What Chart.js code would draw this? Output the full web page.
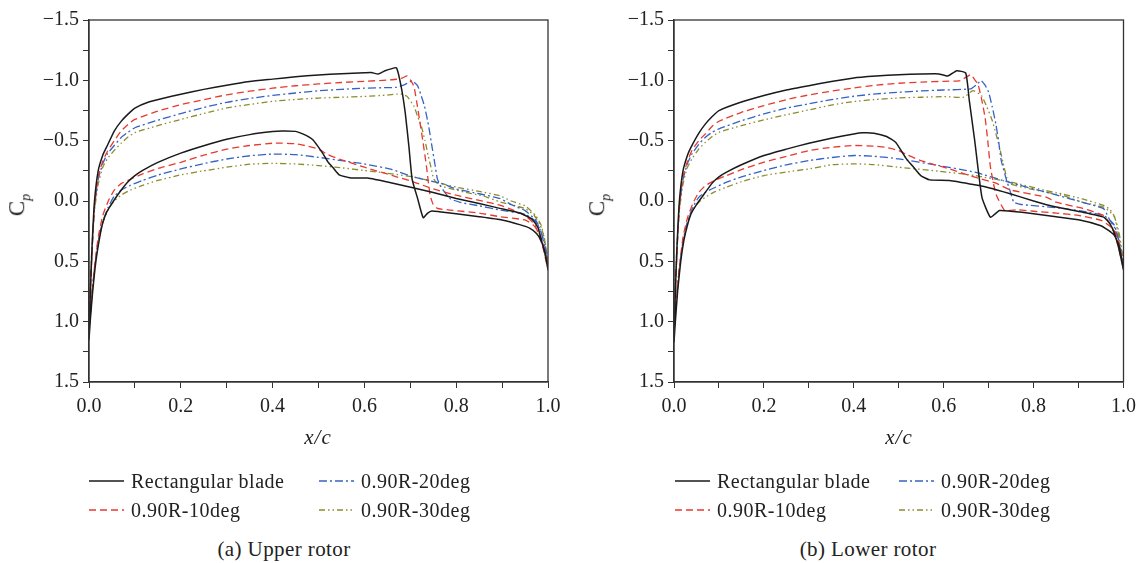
<!DOCTYPE html>
<html>
<head>
<meta charset="utf-8">
<script src="https://cdn.jsdelivr.net/npm/chart.js@4.4.1/dist/chart.umd.min.js"></script>
<style>
  body { margin: 0; background: #fff; }
  #page { position: relative; width: 1143px; height: 563px; overflow: hidden; font-family: "Liberation Serif", "DejaVu Serif", serif; color: #222; }
  canvas { position: absolute; top: 0; }
  .ytitle { position: absolute; font-size: 23px; transform: translate(-50%, -50%) rotate(-90deg); white-space: nowrap; }
  .ytitle sub { font-style: italic; font-size: 14px; }
  .xtitle { position: absolute; font-size: 21px; font-style: italic; letter-spacing: 1px; transform: translate(-50%, -50%); }
  .leg { position: absolute; font-size: 20px; letter-spacing: 0.5px; transform: translateY(-50%); white-space: nowrap; }
  .sample { position: absolute; transform: translateY(-50%); line-height: 0; }
  .sample svg { display: block; }
  .caption { position: absolute; font-size: 21px; letter-spacing: 0.4px; transform: translate(-50%, -50%); white-space: nowrap; }
</style>
</head>
<body>
<div id="page">
  <canvas id="upperChart" width="571" height="430" style="left:0px"></canvas>
  <canvas id="lowerChart" width="571" height="430" style="left:572px"></canvas>
</div>
<script>
// series names and styles order: rectangular, 10deg, 20deg, 30deg
const seriesNames = ['Rectangular blade', '0.90R-10deg', '0.90R-20deg', '0.90R-30deg'];
const seriesColors = ['#1a1a1a', '#e8392e', '#3563c4', '#8c8c2c'];
const seriesDash = [[], [7, 4], [8, 3, 2, 3], [6, 3, 1.5, 3, 1.5, 3]];

const yTickLabels = ['\u22121.5', '\u22121.0', '\u22120.5', '0.0', '0.5', '1.0', '1.5'];
const xTickLabels = ['0.0', '0.2', '0.4', '0.6', '0.8', '1.0'];

// (a) upper rotor, [x/c, Cp], suction side LE->TE then pressure side TE->LE
const upperRect = [
  [0, 1.15], [0.003, 0.75], [0.007, 0.35], [0.012, 0.0], [0.02, -0.25], [0.03, -0.38], [0.04, -0.46],
  [0.055, -0.58], [0.07, -0.66], [0.085, -0.72], [0.1, -0.77], [0.13, -0.82], [0.16, -0.85], [0.2, -0.885],
  [0.25, -0.925], [0.3, -0.96], [0.35, -0.99], [0.4, -1.01], [0.45, -1.03], [0.5, -1.045], [0.55, -1.055],
  [0.6, -1.063], [0.615, -1.065], [0.63, -1.052], [0.645, -1.08], [0.658, -1.095], [0.67, -1.104],
  [0.68, -0.95], [0.689, -0.73], [0.697, -0.45], [0.704, -0.18], [0.716, -0.02], [0.728, 0.138],
  [0.738, 0.1], [0.747, 0.083], [0.763, 0.089], [0.8, 0.105], [0.85, 0.13], [0.9, 0.158], [0.94, 0.198],
  [0.96, 0.225], [0.975, 0.27], [0.985, 0.33], [0.993, 0.42], [1.0, 0.566],
  [0.993, 0.43], [0.986, 0.33], [0.978, 0.22], [0.965, 0.15], [0.94, 0.102], [0.895, 0.061], [0.85, 0.02],
  [0.8, -0.021], [0.75, -0.07], [0.708, -0.107], [0.66, -0.149], [0.607, -0.19], [0.572, -0.19],
  [0.56, -0.2], [0.545, -0.217], [0.533, -0.27], [0.521, -0.321], [0.51, -0.39], [0.498, -0.457],
  [0.487, -0.51], [0.475, -0.539], [0.46, -0.565], [0.45, -0.577], [0.42, -0.58], [0.4, -0.575],
  [0.35, -0.55], [0.3, -0.512], [0.25, -0.458], [0.2, -0.397], [0.15, -0.32], [0.117, -0.253],
  [0.1, -0.21], [0.086, -0.163], [0.074, -0.11], [0.062, -0.048], [0.05, 0.02], [0.039, 0.089],
  [0.03, 0.18], [0.023, 0.307], [0.015, 0.5], [0.008, 0.75], [0.003, 0.98], [0, 1.15]
];
const upper10 = [
  [0, 1.08], [0.003, 0.75], [0.007, 0.4], [0.012, 0.05], [0.02, -0.2], [0.03, -0.33], [0.04, -0.41],
  [0.055, -0.5], [0.07, -0.58], [0.085, -0.635], [0.1, -0.676], [0.15, -0.745], [0.2, -0.798],
  [0.25, -0.84], [0.3, -0.88], [0.35, -0.91], [0.4, -0.935], [0.45, -0.955], [0.5, -0.97], [0.55, -0.982],
  [0.6, -0.992], [0.65, -1.002], [0.67, -1.009], [0.683, -1.02], [0.693, -1.036], [0.701, -1.0],
  [0.708, -0.949], [0.714, -0.82], [0.72, -0.676], [0.728, -0.48], [0.735, -0.294], [0.743, -0.05],
  [0.75, 0.03], [0.759, 0.062], [0.786, 0.075], [0.85, 0.1], [0.895, 0.13], [0.95, 0.157], [0.968, 0.2],
  [0.98, 0.26], [0.99, 0.36], [1.0, 0.57],
  [0.99, 0.4], [0.98, 0.28], [0.97, 0.19], [0.95, 0.12], [0.92, 0.07], [0.895, 0.034], [0.85, -0.005],
  [0.8, -0.048], [0.75, -0.1], [0.708, -0.157], [0.66, -0.212], [0.6, -0.28], [0.545, -0.348],
  [0.52, -0.385], [0.5, -0.43], [0.47, -0.46], [0.45, -0.474], [0.42, -0.48], [0.4, -0.479],
  [0.35, -0.46], [0.3, -0.43], [0.25, -0.38], [0.2, -0.321], [0.15, -0.27], [0.117, -0.225],
  [0.09, -0.18], [0.07, -0.144], [0.055, -0.09], [0.042, 0.0], [0.03, 0.12], [0.02, 0.3],
  [0.012, 0.55], [0.006, 0.8], [0.002, 1.0], [0, 1.08]
];
const upper20 = [
  [0, 1.02], [0.003, 0.7], [0.007, 0.38], [0.012, 0.05], [0.02, -0.18], [0.03, -0.31], [0.04, -0.39],
  [0.055, -0.46], [0.07, -0.526], [0.085, -0.57], [0.1, -0.607], [0.15, -0.67], [0.2, -0.725],
  [0.25, -0.775], [0.3, -0.818], [0.35, -0.85], [0.4, -0.875], [0.45, -0.895], [0.5, -0.913],
  [0.55, -0.925], [0.6, -0.935], [0.65, -0.94], [0.67, -0.942], [0.688, -0.965], [0.704, -0.995],
  [0.716, -0.954], [0.724, -0.87], [0.731, -0.785], [0.74, -0.62], [0.747, -0.457], [0.753, -0.32],
  [0.759, -0.184], [0.767, -0.116], [0.786, -0.021], [0.809, 0.012], [0.85, 0.04], [0.895, 0.075],
  [0.95, 0.11], [0.97, 0.16], [0.982, 0.23], [0.992, 0.34], [1.0, 0.55],
  [0.992, 0.36], [0.983, 0.24], [0.973, 0.157], [0.95, 0.08], [0.92, 0.03], [0.895, -0.021],
  [0.85, -0.06], [0.8, -0.1], [0.77, -0.143], [0.708, -0.198], [0.66, -0.261], [0.6, -0.307],
  [0.55, -0.335], [0.5, -0.362], [0.45, -0.384], [0.4, -0.389], [0.35, -0.375], [0.3, -0.348],
  [0.25, -0.31], [0.2, -0.266], [0.15, -0.215], [0.117, -0.171], [0.09, -0.13], [0.07, -0.089],
  [0.055, -0.04], [0.042, 0.05], [0.03, 0.17], [0.02, 0.33], [0.012, 0.56], [0.006, 0.8],
  [0.002, 0.95], [0, 1.02]
];
const upper30 = [
  [0, 0.92], [0.003, 0.62], [0.007, 0.35], [0.012, 0.08], [0.02, -0.14], [0.03, -0.28], [0.04, -0.35],
  [0.055, -0.42], [0.07, -0.479], [0.085, -0.53], [0.1, -0.567], [0.15, -0.625], [0.2, -0.676],
  [0.25, -0.725], [0.3, -0.771], [0.35, -0.8], [0.4, -0.826], [0.45, -0.842], [0.5, -0.853],
  [0.55, -0.86], [0.6, -0.867], [0.65, -0.878], [0.67, -0.886], [0.682, -0.885], [0.693, -0.867],
  [0.708, -0.785], [0.716, -0.7], [0.724, -0.621], [0.732, -0.5], [0.739, -0.375], [0.745, -0.28],
  [0.751, -0.184], [0.763, -0.13], [0.79, -0.1], [0.817, -0.075], [0.86, -0.04], [0.895, 0.007],
  [0.95, 0.062], [0.97, 0.12], [0.983, 0.2], [0.993, 0.32], [1.0, 0.52],
  [0.993, 0.33], [0.985, 0.2], [0.973, 0.12], [0.95, 0.04], [0.92, 0.0], [0.895, -0.043],
  [0.85, -0.08], [0.8, -0.115], [0.77, -0.143], [0.708, -0.198], [0.66, -0.225], [0.6, -0.253],
  [0.55, -0.275], [0.5, -0.294], [0.45, -0.307], [0.4, -0.312], [0.35, -0.305], [0.3, -0.28],
  [0.25, -0.25], [0.2, -0.217], [0.15, -0.17], [0.117, -0.13], [0.09, -0.09], [0.07, -0.048],
  [0.055, 0.0], [0.042, 0.07], [0.03, 0.18], [0.02, 0.34], [0.012, 0.55], [0.006, 0.75],
  [0.002, 0.88], [0, 0.92]
];

// (b) lower rotor
const lowerRect = [
  [0, 1.17], [0.003, 0.75], [0.007, 0.35], [0.012, 0.0], [0.02, -0.25], [0.03, -0.38], [0.038, -0.446],
  [0.055, -0.56], [0.07, -0.639], [0.085, -0.7], [0.1, -0.749], [0.15, -0.82], [0.2, -0.874],
  [0.25, -0.92], [0.3, -0.956], [0.35, -0.99], [0.4, -1.02], [0.45, -1.035], [0.5, -1.047],
  [0.55, -1.052], [0.589, -1.053], [0.609, -1.036], [0.629, -1.08], [0.649, -1.06], [0.657, -0.832],
  [0.669, -0.5], [0.685, -0.032], [0.704, 0.134], [0.724, 0.079], [0.748, 0.084], [0.8, 0.105],
  [0.85, 0.13], [0.9, 0.156], [0.948, 0.203], [0.965, 0.24], [0.98, 0.286], [0.99, 0.37], [1.0, 0.57],
  [0.99, 0.4], [0.98, 0.27], [0.97, 0.19], [0.956, 0.134], [0.908, 0.092], [0.85, 0.05], [0.8, 0.0],
  [0.748, -0.06], [0.7, -0.11], [0.669, -0.134], [0.613, -0.17], [0.569, -0.175], [0.549, -0.211],
  [0.533, -0.28], [0.517, -0.349], [0.505, -0.42], [0.493, -0.487], [0.473, -0.534], [0.445, -0.562],
  [0.42, -0.565], [0.4, -0.556], [0.35, -0.52], [0.3, -0.479], [0.25, -0.43], [0.2, -0.377],
  [0.15, -0.3], [0.117, -0.239], [0.1, -0.2], [0.085, -0.148], [0.062, -0.032], [0.05, 0.03],
  [0.038, 0.106], [0.03, 0.2], [0.022, 0.327], [0.015, 0.5], [0.008, 0.75], [0.003, 1.0], [0, 1.17]
];
const lower10 = [
  [0, 1.08], [0.003, 0.75], [0.007, 0.4], [0.012, 0.05], [0.02, -0.2], [0.03, -0.33], [0.04, -0.42],
  [0.055, -0.5], [0.07, -0.556], [0.085, -0.62], [0.1, -0.661], [0.15, -0.735], [0.2, -0.791],
  [0.25, -0.84], [0.3, -0.879], [0.35, -0.91], [0.4, -0.937], [0.45, -0.96], [0.5, -0.976],
  [0.55, -0.985], [0.6, -0.992], [0.637, -0.998], [0.66, -1.047], [0.668, -1.01], [0.676, -0.97],
  [0.684, -0.85], [0.692, -0.694], [0.698, -0.5], [0.704, -0.28], [0.716, -0.06], [0.736, 0.079],
  [0.764, 0.073], [0.8, 0.085], [0.85, 0.1], [0.9, 0.12], [0.95, 0.16], [0.97, 0.21], [0.98, 0.244],
  [0.99, 0.35], [1.0, 0.57],
  [0.99, 0.4], [0.98, 0.27], [0.97, 0.189], [0.956, 0.12], [0.908, 0.06], [0.85, 0.01], [0.828, -0.032],
  [0.75, -0.09], [0.716, -0.148], [0.669, -0.197], [0.613, -0.266], [0.549, -0.335], [0.52, -0.38],
  [0.5, -0.418], [0.47, -0.445], [0.445, -0.454], [0.4, -0.46], [0.35, -0.445], [0.3, -0.418],
  [0.25, -0.37], [0.2, -0.322], [0.15, -0.26], [0.117, -0.211], [0.09, -0.17], [0.07, -0.128],
  [0.055, -0.07], [0.042, 0.02], [0.03, 0.14], [0.02, 0.3], [0.012, 0.55], [0.006, 0.8],
  [0.002, 1.0], [0, 1.08]
];
const lower20 = [
  [0, 1.02], [0.003, 0.7], [0.007, 0.38], [0.012, 0.05], [0.02, -0.18], [0.03, -0.31], [0.04, -0.39],
  [0.055, -0.47], [0.07, -0.529], [0.085, -0.57], [0.1, -0.598], [0.15, -0.665], [0.2, -0.722],
  [0.25, -0.77], [0.3, -0.805], [0.35, -0.84], [0.4, -0.868], [0.45, -0.888], [0.5, -0.901],
  [0.55, -0.912], [0.6, -0.92], [0.66, -0.929], [0.672, -0.96], [0.683, -0.998], [0.692, -0.96],
  [0.7, -0.901], [0.708, -0.78], [0.716, -0.639], [0.722, -0.5], [0.728, -0.335], [0.74, -0.17],
  [0.748, -0.08], [0.756, 0.01], [0.772, 0.029], [0.85, 0.055], [0.908, 0.084], [0.956, 0.12],
  [0.97, 0.16], [0.98, 0.203], [0.99, 0.33], [1.0, 0.55],
  [0.99, 0.34], [0.98, 0.22], [0.97, 0.162], [0.956, 0.065], [0.908, 0.01], [0.85, -0.05],
  [0.828, -0.073], [0.75, -0.15], [0.669, -0.239], [0.589, -0.294], [0.5, -0.349], [0.445, -0.371],
  [0.4, -0.377], [0.35, -0.36], [0.3, -0.335], [0.25, -0.3], [0.2, -0.253], [0.15, -0.2],
  [0.117, -0.156], [0.09, -0.11], [0.07, -0.073], [0.055, -0.03], [0.042, 0.05], [0.03, 0.17],
  [0.02, 0.33], [0.012, 0.56], [0.006, 0.8], [0.002, 0.95], [0, 1.02]
];
const lower30 = [
  [0, 0.92], [0.003, 0.62], [0.007, 0.35], [0.012, 0.08], [0.02, -0.14], [0.03, -0.28], [0.04, -0.35],
  [0.055, -0.43], [0.07, -0.487], [0.085, -0.535], [0.1, -0.57], [0.15, -0.625], [0.2, -0.672],
  [0.25, -0.715], [0.3, -0.755], [0.35, -0.795], [0.4, -0.824], [0.45, -0.842], [0.5, -0.854],
  [0.55, -0.86], [0.6, -0.865], [0.645, -0.86], [0.665, -0.915], [0.684, -0.874], [0.696, -0.78],
  [0.708, -0.667], [0.716, -0.56], [0.724, -0.446], [0.732, -0.32], [0.74, -0.197], [0.748, -0.142],
  [0.78, -0.11], [0.828, -0.073], [0.87, -0.04], [0.908, 0.01], [0.956, 0.051], [0.97, 0.09],
  [0.98, 0.134], [0.99, 0.26], [1.0, 0.5],
  [0.99, 0.3], [0.98, 0.13], [0.97, 0.07], [0.956, 0.037], [0.908, -0.018], [0.85, -0.07],
  [0.828, -0.087], [0.75, -0.156], [0.669, -0.211], [0.589, -0.247], [0.5, -0.28], [0.445, -0.302],
  [0.4, -0.308], [0.35, -0.3], [0.3, -0.266], [0.25, -0.24], [0.2, -0.211], [0.15, -0.16],
  [0.117, -0.115], [0.09, -0.075], [0.07, -0.032], [0.055, 0.01], [0.042, 0.07], [0.03, 0.18],
  [0.02, 0.34], [0.012, 0.55], [0.006, 0.75], [0.002, 0.88], [0, 0.92]
];

const FONT = '"Liberation Serif", "DejaVu Serif", serif';

// draws the closed box round the plot area
const framePlugin = {
  id: 'frame',
  afterDraw(chart) {
    const a = chart.chartArea;
    const ctx = chart.ctx;
    ctx.save();
    ctx.strokeStyle = '#333';
    ctx.lineWidth = 1.3;
    ctx.strokeRect(a.left, a.top, a.right - a.left, a.bottom - a.top);
    ctx.restore();
  }
};

function makeChart(canvasId, seriesList, padLeft, padRight) {
  const datasets = seriesList.map((pts, i) => ({
    label: seriesNames[i],
    data: pts.map(p => ({ x: p[0], y: p[1] })),
    showLine: true,
    borderColor: seriesColors[i],
    backgroundColor: seriesColors[i],
    borderDash: seriesDash[i],
    borderWidth: i === 0 ? 1.5 : 1.3,
    pointRadius: 0,
    tension: 0.15,
    fill: false
  }));
  // draw black on top
  datasets[0].order = -1;

  return new Chart(document.getElementById(canvasId), {
    type: 'scatter',
    data: { datasets: datasets },
    options: {
      responsive: false,
      animation: false,
      devicePixelRatio: 1,
      layout: { padding: { left: padLeft, right: padRight, top: 20, bottom: 0 } },
      plugins: { legend: { display: false }, tooltip: { enabled: false } },
      scales: {
        x: {
          type: 'linear', min: 0, max: 1,
          afterFit: s => { s.height = 48; },
          border: { color: '#333', width: 1.3 },
          grid: { drawOnChartArea: false, drawTicks: true, tickLength: 6, color: '#333', tickColor: '#333' },
          ticks: {
            stepSize: 0.1, autoSkip: false, maxRotation: 0, padding: 7,
            color: '#222', font: { family: FONT, size: 20 },
            callback: v => {
              const k = Math.round(v * 10);
              return k % 2 === 0 ? xTickLabels[k / 2] : '';
            }
          }
        },
        y: {
          type: 'linear', min: -1.5, max: 1.5, reverse: true,
          afterFit: s => { s.width = 50; },
          border: { color: '#333', width: 1.3 },
          grid: { drawOnChartArea: false, drawTicks: true, tickLength: 6, color: '#333', tickColor: '#333' },
          ticks: {
            stepSize: 0.25, autoSkip: false, padding: 4,
            color: '#222', font: { family: FONT, size: 20 },
            callback: v => {
              const k = Math.round(v * 4);
              return k % 2 === 0 ? yTickLabels[(k + 6) / 2] : '';
            }
          }
        }
      }
    },
    plugins: [framePlugin]
  });
}

makeChart('upperChart', [upperRect, upper10, upper20, upper30], 39, 23);
makeChart('lowerChart', [lowerRect, lower10, lower20, lower30], 52, 19);

// axis titles, legends and captions
const page = document.getElementById('page');
function addDiv(cls, html, left, top) {
  const d = document.createElement('div');
  d.className = cls;
  d.innerHTML = html;
  d.style.left = left + 'px';
  d.style.top = top + 'px';
  page.appendChild(d);
}
function addSample(i, left, top) {
  const dash = seriesDash[i].length ? seriesDash[i].join(' ') : 'none';
  const svg = '<svg width="35" height="6"><line x1="0" y1="3" x2="35" y2="3" stroke="' + seriesColors[i] +
    '" stroke-width="1.4" stroke-dasharray="' + dash + '"/></svg>';
  const d = document.createElement('div');
  d.className = 'sample';
  d.innerHTML = svg;
  d.style.left = left + 'px';
  d.style.top = top + 'px';
  page.appendChild(d);
}

const panels = [
  { yTitleX: 19, xTitleX: 318, legCols: [89, 319], capX: 284, caption: '(a) Upper rotor' },
  { yTitleX: 599, xTitleX: 899, legCols: [675, 899], capX: 868, caption: '(b) Lower rotor' }
];
// legend grid: row 1 = rectangular, 20deg ; row 2 = 10deg, 30deg
const legendGrid = [[0, 2], [1, 3]];
const legendRowsY = [481, 510];

panels.forEach(p => {
  addDiv('ytitle', 'C<sub>p</sub>', p.yTitleX, 205);
  addDiv('xtitle', 'x/c', p.xTitleX, 437);
  legendGrid.forEach((row, r) => {
    row.forEach((si, c) => {
      addSample(si, p.legCols[c], legendRowsY[r]);
      addDiv('leg', seriesNames[si], p.legCols[c] + 42, legendRowsY[r]);
    });
  });
  addDiv('caption', p.caption, p.capX, 549);
});
</script>
</body>
</html>
